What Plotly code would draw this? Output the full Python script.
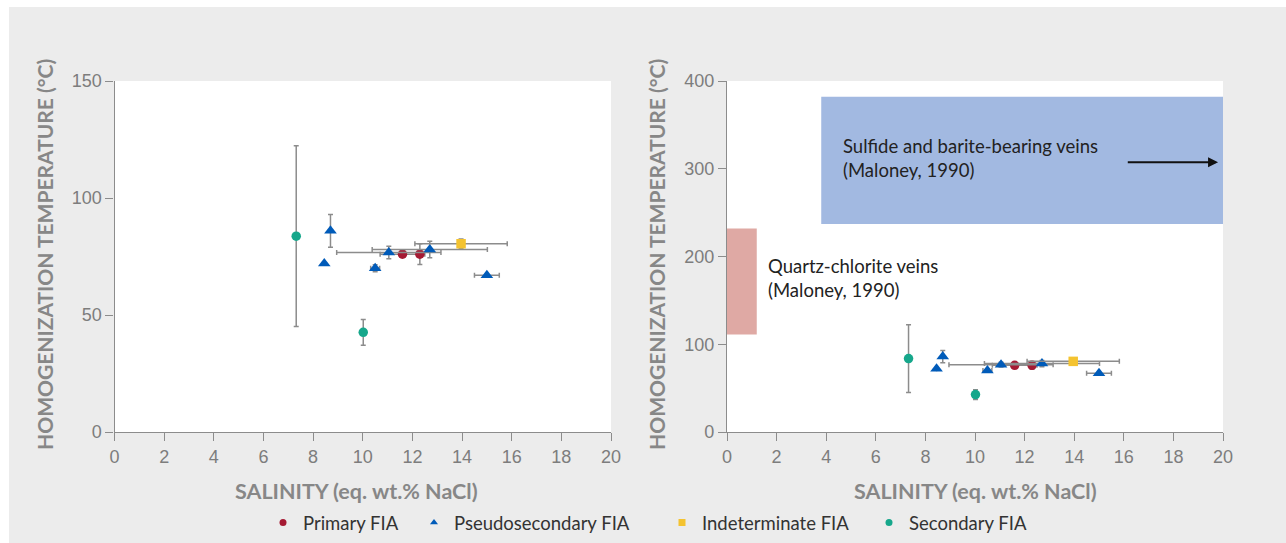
import plotly.graph_objects as go

# ---------------- data ----------------
primary_sal = [11.6, 12.3]
primary_th = [76, 76]
primary_sal_err = [0.9, 0]
primary_th_err = [0, 4.4]

pseudo_sal = [8.7, 8.45, 10.5, 11.05, 12.7, 15.0]
pseudo_th = [86, 72, 70, 76.7, 78, 67]
pseudo_sal_err = [0, 0, 0.18, 2.1, 2.32, 0.5]
pseudo_th_err = [7, 0, 1.5, 2.7, 3.5, 0]

indet_sal = [13.96]
indet_th = [80.5]
indet_sal_err = [1.86]
indet_th_err = [2]

second_sal = [7.32, 10.02]
second_th = [83.7, 42.6]
second_sal_err = [0, 0]
second_th_err = [38.6, 5.5]

groups = [
    ("Primary FIA", primary_sal, primary_th, primary_sal_err, primary_th_err, "#a51a33", "circle", 9.5),
    ("Pseudosecondary FIA", pseudo_sal, pseudo_th, pseudo_sal_err, pseudo_th_err, "#005bb9", "triangle-up", 11),
    ("Indeterminate FIA", indet_sal, indet_th, indet_sal_err, indet_th_err, "#f4c330", "square", 9.5),
    ("Secondary FIA", second_sal, second_th, second_sal_err, second_th_err, "#16a78b", "circle", 9.5),
]

x_ticks = list(range(0, 21, 2))
y_ticks_left = [0, 50, 100, 150]
y_ticks_right = [0, 100, 200, 300, 400]

# reference fields (Maloney, 1990)
quartz_sal = [0, 1.2]
quartz_th = [111, 232]
sulfide_sal = [3.8, 20]
sulfide_th = [237, 382]

W, H = 1286, 543
ERR = "#8c8c8c"
AX = "#8c8c8c"

# legend item positions (px of text start)
legend_ids = ["legend", "legend2", "legend3", "legend4"]
legend_text_x = [303, 454, 702, 909]

fig = go.Figure()

for i, (name, sx, ty, ex, ey, col, sym, msize) in enumerate(groups):
    for xa, ya in (("x", "y"), ("x2", "y2")):
        fig.add_trace(go.Scatter(
            x=sx, y=ty, mode="markers", xaxis=xa, yaxis=ya,
            marker=dict(color=col, symbol=sym, size=msize, line=dict(width=0)),
            error_x=dict(type="data", array=ex, visible=True, color=ERR, thickness=1.5, width=2.5),
            error_y=dict(type="data", array=ey, visible=True, color=ERR, thickness=1.5, width=2.5),
            showlegend=False, hoverinfo="x+y", name=name,
        ))
    # legend entry
    fig.add_trace(go.Scatter(
        x=[None], y=[None], mode="markers", xaxis="x", yaxis="y",
        marker=dict(color=col, symbol=sym, size=7), name=name, showlegend=True,
        legend=legend_ids[i],
    ))

axis_common = dict(
    showline=True, linecolor=AX, linewidth=1.2, ticks="outside", ticklen=8,
    tickcolor=AX, tickwidth=1.2, showgrid=False, zeroline=False, automargin=False,
    tickfont=dict(family="Liberation Sans, Arial", size=18, color="#7d7d7d"),
)

xd1 = [114.5 / W, 611 / W]
xd2 = [727 / W, 1223 / W]
yd = [1 - 432 / H, 1 - 81 / H]

legend_font = dict(family="Lato, Open Sans", size=18.5, color="#333333")
legend_layout = {}
for lid, tx in zip(legend_ids, legend_text_x):
    legend_layout[lid] = dict(
        orientation="h", x=(tx - 40) / W, xanchor="left", y=1 - 523 / H, yanchor="middle",
        bgcolor="rgba(0,0,0,0)", font=legend_font, itemwidth=30, borderwidth=0,
    )

fig.update_layout(
    width=W, height=H,
    margin=dict(l=0, r=0, t=0, b=0, autoexpand=False),
    paper_bgcolor="white",
    plot_bgcolor="white",
    xaxis=dict(domain=xd1, range=[0, 20], tickvals=x_ticks, anchor="y", **axis_common),
    yaxis=dict(domain=yd, range=[0, 150], tickvals=y_ticks_left, anchor="x", **axis_common),
    xaxis2=dict(domain=xd2, range=[0, 20], tickvals=x_ticks, anchor="y2", **axis_common),
    yaxis2=dict(domain=yd, range=[0, 400], tickvals=y_ticks_right, anchor="x2", **axis_common),
    showlegend=True,
    **legend_layout,
)

shapes = [
    # gray panel
    dict(type="rect", xref="paper", yref="paper", x0=9 / W, x1=1, y0=0, y1=1 - 7 / H,
         fillcolor="#ececec", line=dict(width=0), layer="below"),
    # white plot areas
    dict(type="rect", xref="x domain", yref="y domain", x0=0, x1=1, y0=0, y1=1,
         fillcolor="white", line=dict(width=0), layer="below"),
    dict(type="rect", xref="x2 domain", yref="y2 domain", x0=0, x1=1, y0=0, y1=1,
         fillcolor="white", line=dict(width=0), layer="below"),
    # fields
    dict(type="rect", xref="x2", yref="y2", x0=quartz_sal[0], x1=quartz_sal[1],
         y0=quartz_th[0], y1=quartz_th[1], fillcolor="#dfa9a4", line=dict(width=0), layer="below"),
    dict(type="rect", xref="x2", yref="y2", x0=sulfide_sal[0], x1=sulfide_sal[1],
         y0=sulfide_th[0], y1=sulfide_th[1], fillcolor="#a2b9e1", line=dict(width=0), layer="below"),
]
fig.update_layout(shapes=shapes)

title_font = dict(family="Lato, Open Sans", size=21, color="#878787")
xtitle_font = dict(family="Lato, Open Sans", size=21.5, color="#878787")
note_font = dict(family="Lato, Open Sans", size=18.5, color="#222222")

annotations = [
    dict(text="<b>HOMOGENIZATION TEMPERATURE (°C)</b>", xref="paper", yref="paper",
         x=44 / W, y=1 - 255 / H, textangle=-90, showarrow=False, font=title_font,
         xanchor="center", yanchor="middle"),
    dict(text="<b>HOMOGENIZATION TEMPERATURE (°C)</b>", xref="paper", yref="paper",
         x=656 / W, y=1 - 255 / H, textangle=-90, showarrow=False, font=title_font,
         xanchor="center", yanchor="middle"),
    dict(text="<b>SALINITY (eq. wt.% NaCl)</b>", xref="paper", yref="paper",
         x=356 / W, y=1 - 491 / H, showarrow=False, font=xtitle_font,
         xanchor="center", yanchor="middle"),
    dict(text="<b>SALINITY (eq. wt.% NaCl)</b>", xref="paper", yref="paper",
         x=975 / W, y=1 - 491 / H, showarrow=False, font=xtitle_font,
         xanchor="center", yanchor="middle"),
    dict(text="Sulfide and barite-bearing veins<br>(Maloney, 1990)", xref="x2", yref="y2",
         x=4.6, y=312, showarrow=False, font=note_font, xanchor="left", yanchor="middle",
         align="left"),
    dict(text="Quartz-chlorite veins<br>(Maloney, 1990)", xref="x2", yref="y2",
         x=1.58, y=175.5, showarrow=False, font=note_font, xanchor="left", yanchor="middle",
         align="left"),
    dict(text="", xref="x2", yref="y2", axref="x2", ayref="y2",
         x=19.8, y=307.5, ax=16.1, ay=307.5, showarrow=True, arrowhead=2, arrowsize=1,
         arrowwidth=2, arrowcolor="#111111"),
]
fig.update_layout(annotations=annotations)

fig.write_html(
    "out.html",
    config={"displayModeBar": False},
    post_script="document.body.style.margin='0px';document.body.style.overflow='hidden';",
)
